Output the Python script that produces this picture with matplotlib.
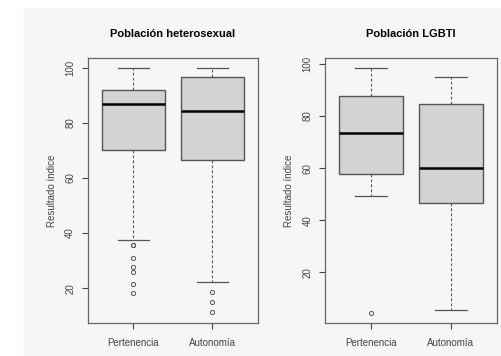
import matplotlib
matplotlib.use("Agg")
import matplotlib.pyplot as plt
from matplotlib.patches import Rectangle

plt.rcParams['font.family'] = ['Liberation Sans', 'DejaVu Sans']

groups = ['Pertenencia', 'Autonomía']
titles = ['Población heterosexual', 'Población LGBTI']

# box stats: [whislo, q1, med, q3, whishi]
hetero_stats = [[37.6, 70.0, 86.9, 92.0, 100.0],
                [22.3, 66.4, 84.2, 96.5, 100.0]]
hetero_fliers = [[35.8, 35.5, 31.1, 27.8, 25.8, 21.5, 18.1],
                 [18.6, 15.1, 11.5]]

lgbti_stats = [[49.3, 57.6, 73.5, 87.8, 98.6],
               [5.7, 46.7, 60.2, 84.5, 94.9]]
lgbti_fliers = [[4.3], []]

yticks = [20, 40, 60, 80, 100]

fig = plt.figure(figsize=(5.02, 3.56), dpi=100, facecolor='white')
fig.patches.append(Rectangle((24 / 502, 0), 1, 1 - 8 / 356, transform=fig.transFigure,
                             facecolor='#f8f5f9', edgecolor='none', zorder=-1))

ax1 = fig.add_axes([0.1747, 0.0927, 0.3393, 0.7453])
ax2 = fig.add_axes([0.6474, 0.0927, 0.3426, 0.7453])

panels = [(ax1, hetero_stats, hetero_fliers, (7.4, 103.6)),
          (ax2, lgbti_stats, lgbti_fliers, (0.6, 102.4))]

for i, (ax, stats, fliers, ylim) in enumerate(panels):
    bxp_stats = []
    for name, s, f in zip(groups, stats, fliers):
        bxp_stats.append(dict(label=name, whislo=s[0], q1=s[1], med=s[2], q3=s[3],
                              whishi=s[4], fliers=f))
    ax.bxp(bxp_stats, positions=[1, 2], widths=0.8, patch_artist=True,
           boxprops=dict(facecolor='#d3d3d3', edgecolor='#555555', linewidth=1.0),
           medianprops=dict(color='black', linewidth=1.8),
           whiskerprops=dict(color='#555555', linestyle=(0, (2.5, 2)), linewidth=0.8),
           capprops=dict(color='#555555', linewidth=0.9),
           capwidths=0.4,
           flierprops=dict(marker='o', markersize=3, markerfacecolor='none',
                           markeredgecolor='#555555', markeredgewidth=0.7))
    ax.set_facecolor('#f8f5f9')
    ax.set_xlim(0.42, 2.58)
    ax.set_ylim(*ylim)
    ax.set_yticks(yticks)
    ax.set_yticklabels([str(t) for t in yticks], rotation=90, va='center')
    ax.tick_params(axis='both', labelsize=7, colors='#444444', length=4, width=0.8)
    ax.tick_params(axis='x', pad=7)
    ax.tick_params(axis='y', pad=5)
    for sp in ax.spines.values():
        sp.set_color('#666666')
        sp.set_linewidth(0.9)
    ax.set_ylabel('Resultado índice', fontsize=7, color='#444444', labelpad=6)
    ax.set_title(titles[i], fontsize=8, fontweight='bold', pad=15)

fig.savefig('out.png', dpi=100, facecolor=fig.get_facecolor())
